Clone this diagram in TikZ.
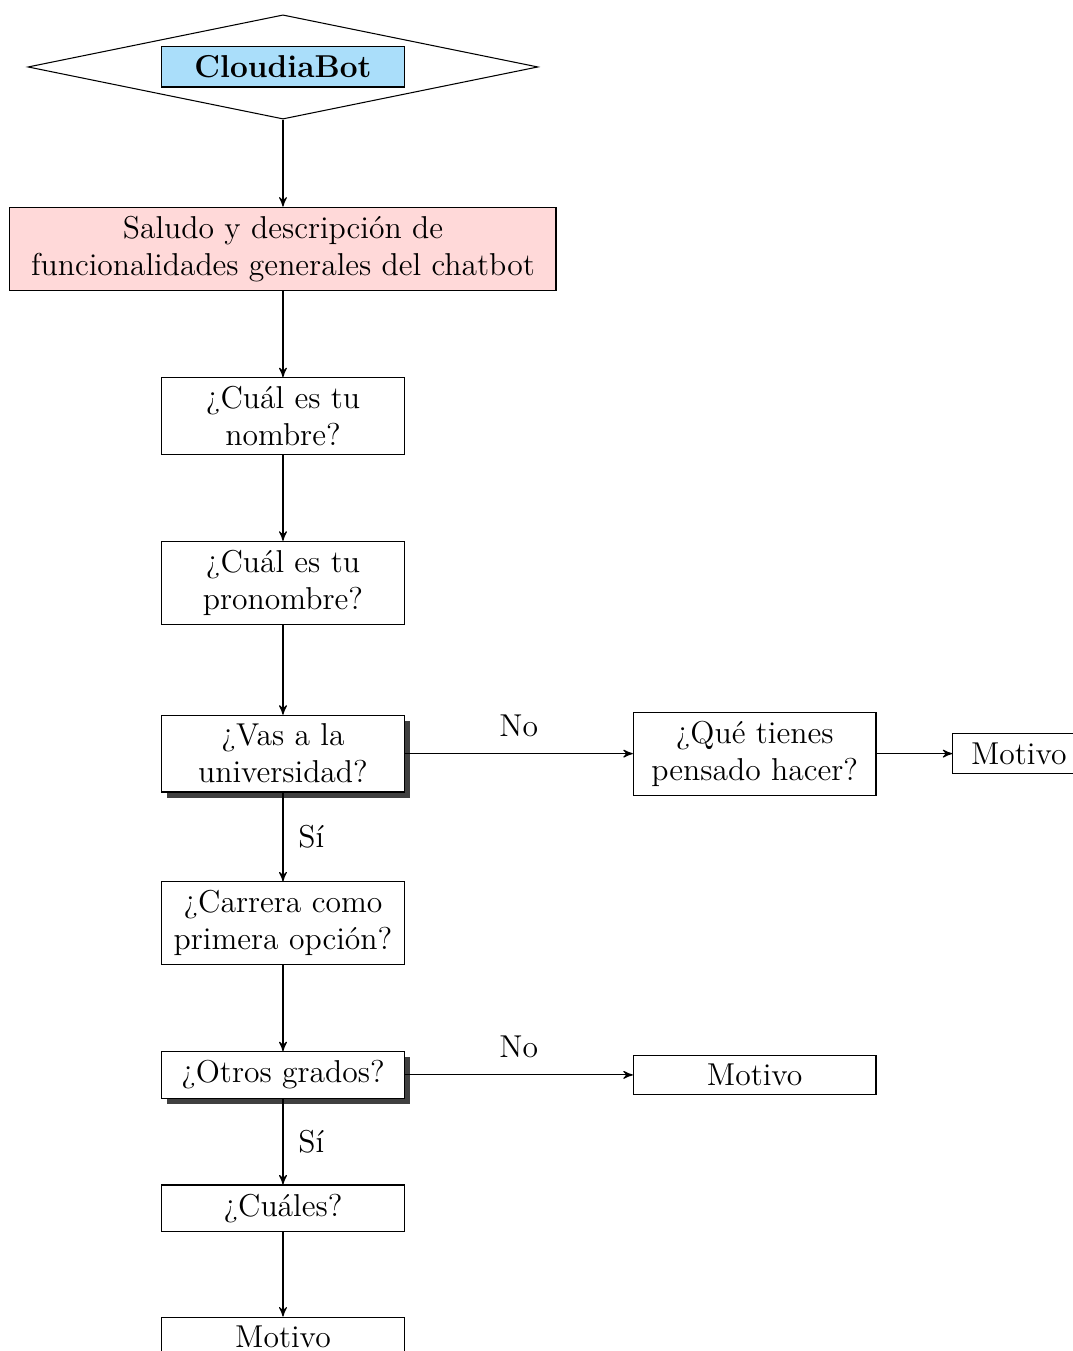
\documentclass[tikz,border=0pt]{standalone}
\usepackage{tikz}
\usetikzlibrary{arrows}
\usetikzlibrary{shapes, shadows, positioning}

\definecolor{botblue}{RGB}{170,222,250}

\tikzset{
  block/.style={rectangle, draw, fill=white, minimum width=3.235cm, align=center, font=\large},
  question/.style={block, drop shadow={fill=black!75, opacity=1}},
  decision/.style={diamond, draw, minimum width=6.8cm, minimum height=1.39cm, inner sep=0pt},
  lbl/.style={font=\large},
  line/.style={draw, -stealth'}
}

\begin{document}
\begin{tikzpicture}[node distance=1.145cm]
\useasboundingbox (-3.773,0.893) rectangle (10.533,-17.12);

% inicio
\node[decision] (start) at (0,0) {};
\node[block, fill=botblue, font=\large\bfseries] (bot) at (start) {CloudiaBot};

% columna principal
\node[block, fill=red!15, minimum width=7.28cm, below=1.16cm of start] (saludo) {Saludo y descripción de\\funcionalidades generales del chatbot};
\node[block, below=1.15cm of saludo] (nombre) {¿Cuál es tu\\nombre?};
\node[block, below=1.14cm of nombre] (pronombre) {¿Cuál es tu\\pronombre?};
\node[question, below=1.2cm of pronombre] (uni) {¿Vas a la\\universidad?};
\node[block, below=1.185cm of uni] (carrera) {¿Carrera como\\primera opción?};
\node[question, below=of carrera] (otros) {¿Otros grados?};
\node[block, below=of otros] (cuales) {¿Cuáles?};
\node[block, below=1.13cm of cuales] (motivoc) {Motivo};

% ramas
\node[block, right=3.04cm of uni] (hacer) {¿Qué tienes\\pensado hacer?};
\node[block, minimum width=1.76cm, right=1.01cm of hacer] (motivoa) {Motivo};
\node[block, right=3.04cm of otros] (motivob) {Motivo};

\path[line] (start) -- (saludo);
\path[line] (saludo) -- (nombre);
\path[line] (nombre) -- (pronombre);
\path[line] (pronombre) -- (uni);
\path[line] (uni) -- node[lbl, above=0.1cm] {No} (hacer);
\path[line] (hacer) -- (motivoa);
\path[line] (uni) -- node[lbl, right=0.08cm] {Sí} (carrera);
\path[line] (carrera) -- (otros);
\path[line] (otros) -- node[lbl, above=0.1cm] {No} (motivob);
\path[line] (otros) -- node[lbl, right=0.08cm] {Sí} (cuales);
\path[line] (cuales) -- (motivoc);
\end{tikzpicture}
\end{document}
